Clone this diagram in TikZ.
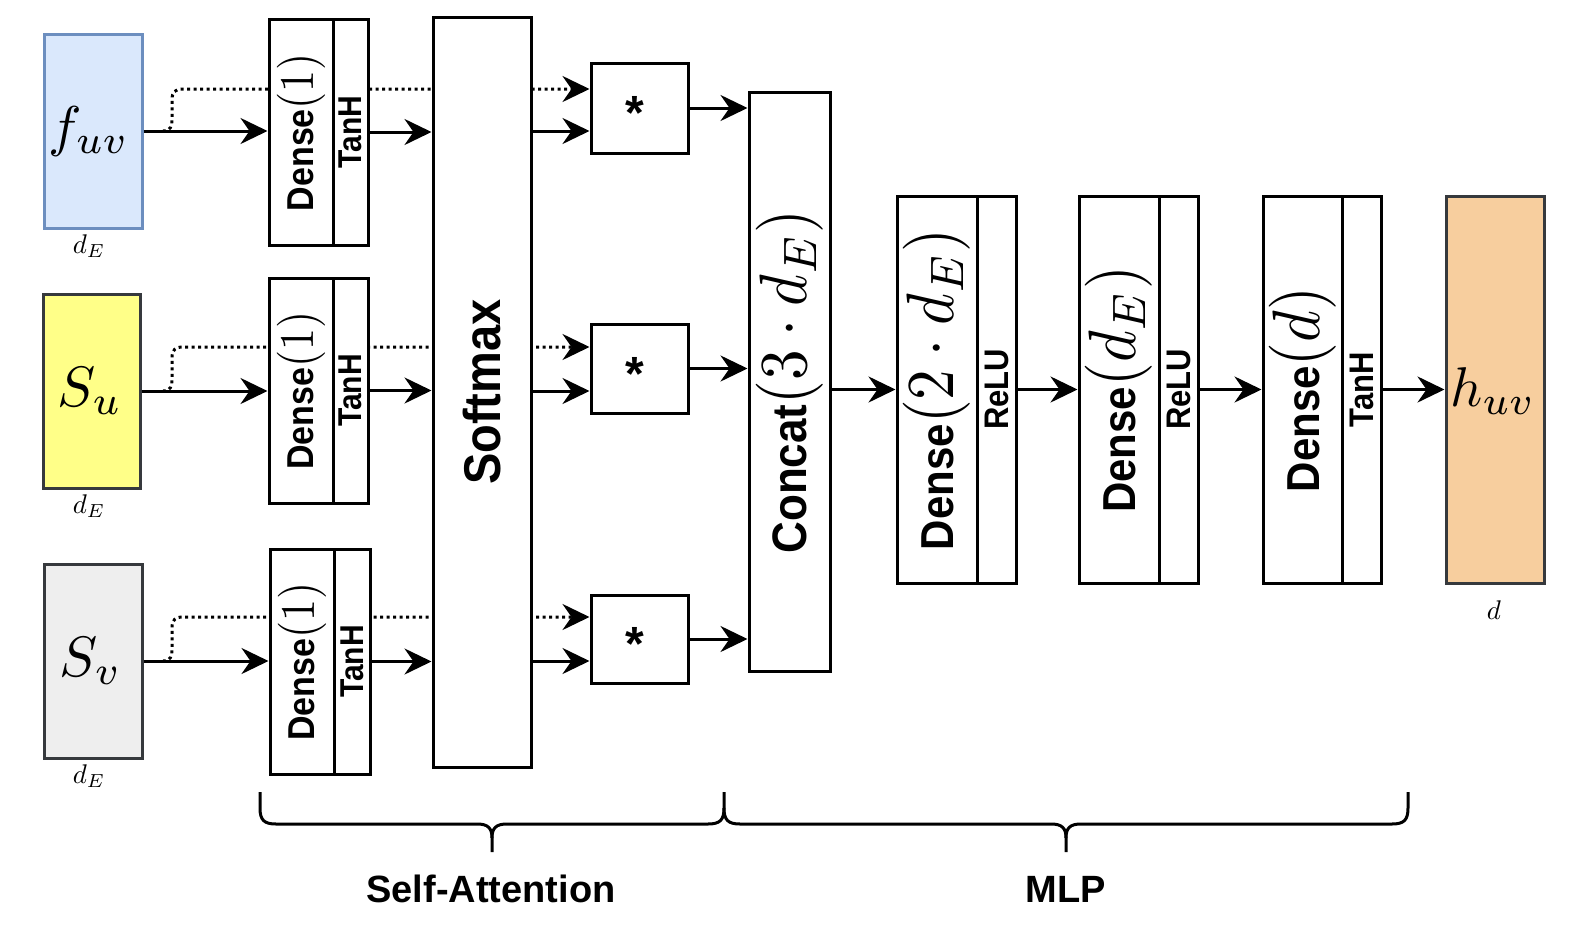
\documentclass[tikz,border=0pt]{standalone}
\usepackage{fix-cm}
\usepackage{graphicx}
\usepackage[no-math]{fontspec}
\newfontfamily\lsans{Liberation Sans}
\usetikzlibrary{arrows.meta}
\definecolor{fuvfill}{HTML}{DAE8FC}
\definecolor{fuvline}{HTML}{6C8EBF}
\definecolor{sufill}{HTML}{FFFF88}
\definecolor{svfill}{HTML}{EEEEEE}
\definecolor{huvfill}{HTML}{F7CE9E}
\definecolor{darkline}{HTML}{36393D}
\newcommand{\fsz}[1]{\fontsize{#1}{#1}\selectfont}
% math set at 10pt and scaled, so that the 10pt design is used
\newcommand{\scmath}[2]{{\fsz{10}\scalebox{#1}{$#2$}}}
\newcommand{\sanslab}[2]{\rotatebox{90}{\scalebox{1}[1.1]{\lsans\bfseries\fsz{#1}#2}}}
\newcommand{\denselab}[3]{\rotatebox{90}{\scalebox{1}[1.1]{\lsans\bfseries\fsz{#1}Dense\scmath{#2}{#3}}}}
\pgfdeclarelayer{bg}
\pgfsetlayers{bg,main}
\tikzset{
  box/.style={draw, line width=3pt, inner sep=0pt, fill=white},
  inbox/.style={draw, line width=3pt, inner sep=0pt},
  txt/.style={inner sep=0pt},
  conn/.style={line width=3pt, -{Stealth[length=27pt,width=26pt,inset=9pt]}},
  dots/.style={conn, dash pattern=on 3pt off 3.5pt},
  brace/.style={line width=3pt}
}
\begin{document}
\begin{tikzpicture}[x=1pt,y=-1pt]
\useasboundingbox (0,0) rectangle (1580,932);

% inputs
\node[inbox, fill=fuvfill, draw=fuvline, minimum width=98pt, minimum height=194pt] (fuv) at (93,131) {};
\node[txt] (fuvt) at (89,131) {\scmath{5.6}{f_{uv}}};
\node[txt, anchor=base] (fuvd) at (89,253) {\scmath{2.7}{d_E}};
\node[inbox, fill=sufill, draw=darkline, minimum width=97pt, minimum height=194pt] (su) at (91.5,391) {};
\node[txt] (sut) at (90,391) {\scmath{5.7}{S_u}};
\node[txt, anchor=base] (sud) at (89,513) {\scmath{2.7}{d_E}};
\node[inbox, fill=svfill, draw=darkline, minimum width=98pt, minimum height=194pt] (sv) at (93,661) {};
\node[txt] (svt) at (91,661) {\scmath{5.7}{S_v}};
\node[txt, anchor=base] (svd) at (89,783) {\scmath{2.7}{d_E}};

% dense layers of the attention
\node[box, minimum width=64pt, minimum height=226pt] (den1) at (301,132) {\denselab{34}{4.4}{(1)}};
\node[box, minimum width=35pt, minimum height=226pt] (act1) at (350.5,132) {\sanslab{30}{TanH}};
\node[box, minimum width=64pt, minimum height=225pt] (den2) at (301,390.5) {\denselab{34}{4.4}{(1)}};
\node[box, minimum width=35pt, minimum height=225pt] (act2) at (350.5,390.5) {\sanslab{30}{TanH}};
\node[box, minimum width=64pt, minimum height=225pt] (den3) at (302,661.5) {\denselab{34}{4.4}{(1)}};
\node[box, minimum width=36pt, minimum height=225pt] (act3) at (352,661.5) {\sanslab{30}{TanH}};

\node[box, minimum width=98pt, minimum height=750pt] (soft) at (482,392) {\sanslab{47}{Softmax}};

% products
\node[box, minimum width=97pt, minimum height=90pt] (mul1) at (639.5,108) {};
\node[txt, anchor=base] (mul1t) at (635,129) {\lsans\bfseries\fsz{48}*};
\node[box, minimum width=97pt, minimum height=89pt] (mul2) at (639.5,368.5) {};
\node[txt, anchor=base] (mul2t) at (635,390) {\lsans\bfseries\fsz{48}*};
\node[box, minimum width=97pt, minimum height=88pt] (mul3) at (639.5,639) {};
\node[txt, anchor=base] (mul3t) at (635,660.5) {\lsans\bfseries\fsz{48}*};

\node[box, minimum width=81pt, minimum height=579pt] (cat) at (789.5,381.5)
  {\rotatebox{90}{\scalebox{1}[1.1]{\lsans\bfseries\fsz{44}Concat\scmath{6.1}{(3\cdot d_E)}}}};

% MLP
\node[box, minimum width=80pt, minimum height=387pt] (mlp1) at (937,389.5) {\denselab{42}{6.1}{(2\cdot d_E)}};
\node[box, minimum width=39pt, minimum height=387pt] (mact1) at (996.5,389.5) {\sanslab{31}{ReLU}};
\node[box, minimum width=80pt, minimum height=387pt] (mlp2) at (1119,389.5) {\denselab{42}{6.1}{(d_E)}};
\node[box, minimum width=39pt, minimum height=387pt] (mact2) at (1178.5,389.5) {\sanslab{31}{ReLU}};
\node[box, minimum width=79pt, minimum height=387pt] (mlp3) at (1302.5,389.5) {\denselab{42}{6.1}{(d)}};
\node[box, minimum width=39pt, minimum height=387pt] (mact3) at (1361.5,389.5) {\sanslab{31}{TanH}};

\node[inbox, fill=huvfill, draw=darkline, minimum width=98pt, minimum height=387pt] (huv) at (1495,389.5) {};
\node[txt] (huvt) at (1493,391) {\scmath{5.6}{h_{uv}}};
\node[txt, anchor=base] (huvd) at (1494,619) {\scmath{2.7}{d}};

% dotted skip connections
\begin{pgfonlayer}{bg}
\coordinate (b1) at (163,131); \coordinate (t1) at (183,89);
\draw[dots] (b1) .. controls (171,131) and (172,126) .. (172,118) -- (172,100) .. controls (172,92) and (175,89) .. (t1) -- (t1 -| mul1.west);
\coordinate (b2) at (163,391); \coordinate (t2) at (183,347);
\draw[dots] (b2) .. controls (171,391) and (172,386) .. (172,378) -- (172,358) .. controls (172,350) and (175,347) .. (t2) -- (t2 -| mul2.west);
\coordinate (b3) at (163,661); \coordinate (t3) at (183,617);
\draw[dots] (b3) .. controls (171,661) and (172,656) .. (172,648) -- (172,628) .. controls (172,620) and (175,617) .. (t3) -- (t3 -| mul3.west);
\end{pgfonlayer}

% solid connectors
\draw[conn] (fuv.east) -- (fuv.east -| den1.west);
\draw[conn] (act1.east) -- (act1.east -| soft.west);
\draw[conn] (soft.east |- fuv.east) -- (mul1.west |- fuv.east);
\draw[conn] (mul1.east) -- (mul1.east -| cat.west);

\draw[conn] (su.east) -- (su.east -| den2.west);
\draw[conn] (act2.east) -- (act2.east -| soft.west);
\draw[conn] (soft.east |- su.east) -- (mul2.west |- su.east);
\draw[conn] (mul2.east) -- (mul2.east -| cat.west);

\draw[conn] (sv.east) -- (sv.east -| den3.west);
\draw[conn] (act3.east) -- (act3.east -| soft.west);
\draw[conn] (soft.east |- sv.east) -- (mul3.west |- sv.east);
\draw[conn] (mul3.east) -- (mul3.east -| cat.west);

\draw[conn] (cat.east |- mlp1.west) -- (mlp1.west);
\draw[conn] (mact1.east) -- (mlp2.west);
\draw[conn] (mact2.east) -- (mlp3.west);
\draw[conn] (mact3.east) -- (huv.west);

% braces
\draw[brace] (260,792) -- (260,808) .. controls (260,820) and (264,824) .. (276,824) -- (477,824)
  .. controls (488,824) and (492,828) .. (492,838) -- (492,852);
\draw[brace] (724,792) -- (724,808) .. controls (724,820) and (720,824) .. (708,824) -- (507,824)
  .. controls (496,824) and (492,828) .. (492,838);
\draw[brace] (724,808) .. controls (724,820) and (728,824) .. (740,824) -- (1051,824)
  .. controls (1062,824) and (1066,828) .. (1066,838) -- (1066,852);
\draw[brace] (1408,792) -- (1408,808) .. controls (1408,820) and (1404,824) .. (1392,824) -- (1081,824)
  .. controls (1070,824) and (1066,828) .. (1066,838);

\node[txt, anchor=base] (satt) at (491,902) {\lsans\bfseries\fsz{38}Self-Attention};
\node[txt, anchor=base] (mlpt) at (1066,902) {\lsans\bfseries\fsz{38}MLP};
\end{tikzpicture}
\end{document}
